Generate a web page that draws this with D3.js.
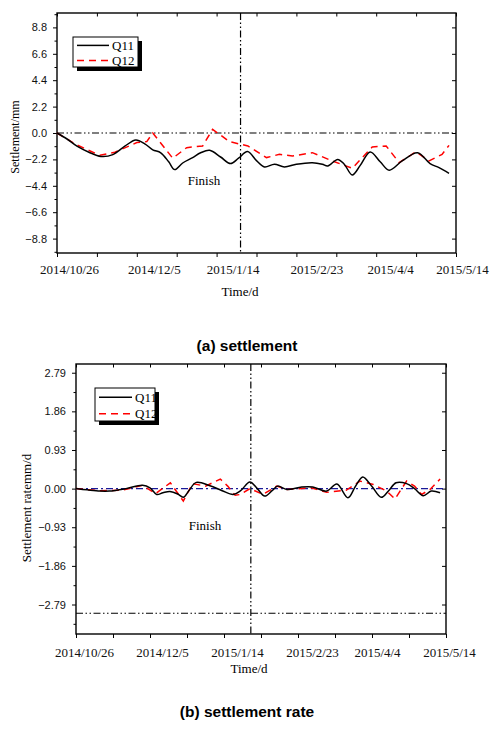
<!DOCTYPE html>
<html>
<head>
<meta charset="utf-8">
<script src="https://cdn.jsdelivr.net/npm/d3@7"></script>
<style>
  body { margin: 0; background: #fff; }
  svg { display: block; }
</style>
</head>
<body>
<div id="chart"></div>
<script>
// x axis: days since 2014/10/26
const xTickDays = [0, 40, 80, 120, 160, 200];
const xTickLabels = ["2014/10/26", "2014/12/5", "2015/1/14", "2015/2/23", "2015/4/4", "2015/5/14"];

// (a) settlement, mm
const settleYTicks = [-8.8, -6.6, -4.4, -2.2, 0.0, 2.2, 4.4, 6.6, 8.8];
const settleQ11Days = [0, 5, 10, 16, 22, 28, 34, 39.5, 44, 48, 52, 56, 59, 63, 68, 72, 76.5, 82, 87, 91, 95.5, 100, 104, 109, 114, 120, 128, 133, 135.7, 140.7, 144, 148, 152, 157, 162, 166.5, 173, 180.7, 187, 191.5, 196.5];
const settleQ11 = [0, -0.5, -1.1, -1.6, -1.95, -1.8, -1.1, -0.58, -0.9, -1.4, -1.65, -2.4, -3.05, -2.5, -2.05, -1.65, -1.44, -2.0, -2.55, -2.1, -1.55, -2.3, -2.83, -2.6, -2.83, -2.6, -2.47, -2.6, -2.75, -2.2, -2.6, -3.5, -2.7, -1.58, -2.4, -3.1, -2.33, -1.64, -2.55, -2.89, -3.36];
const settleQ12Days = [0, 10, 21.5, 29, 40, 45, 48, 58, 65, 73, 78, 86.5, 95.7, 105, 111.5, 118, 128, 138, 148, 158, 165, 171.5, 180, 186.5, 193, 196.5];
const settleQ12 = [0, -1.0, -1.86, -1.6, -0.8, -0.72, 0, -2.1, -1.22, -1.08, 0.3, -0.72, -1.08, -2.05, -1.78, -1.92, -1.64, -2.33, -2.94, -1.17, -1.08, -2.47, -1.56, -2.33, -1.78, -1.03];

// (b) settlement rate, mm/d
const rateYTicks = [-2.79, -1.86, -0.93, 0.00, 0.93, 1.86, 2.79];
const rateQ11Days = [0, 6, 13, 18, 27, 36, 40, 43.6, 47, 50.8, 55, 58, 61, 65, 72.4, 79, 85, 89, 94, 98, 102, 106, 109, 114, 122, 128, 135.5, 141, 147, 151, 155, 160, 165, 169, 173, 178.7, 183, 187.7, 192, 196.8];
const rateQ11 = [0, -0.03, -0.06, -0.06, 0.0, 0.08, 0.02, -0.14, -0.1, -0.07, -0.13, -0.21, -0.05, 0.15, 0.07, -0.05, -0.14, -0.05, 0.16, 0.0, -0.18, -0.05, 0.06, -0.02, 0.04, 0.04, -0.06, 0.11, -0.22, 0.05, 0.28, 0.05, -0.21, -0.05, 0.14, 0.12, 0.0, -0.17, -0.06, -0.1];
const rateQ12Days = [0, 13, 25, 36, 43, 51, 58, 63, 70, 78, 82, 86, 89, 94, 101, 108.5, 114, 127, 135.5, 146, 153.5, 160.7, 168, 172.4, 178.7, 183, 186.8, 191.4, 196.8];
const rateQ12 = [0, -0.05, -0.04, 0.08, -0.12, 0.14, -0.3, 0.12, 0.06, 0.23, 0.06, -0.16, -0.14, 0, -0.14, 0.06, -0.02, 0.02, -0.09, -0.04, 0.18, 0.1, -0.06, -0.25, 0.18, 0.06, -0.14, -0.02, 0.23];

const SERIF = "Liberation Serif, DejaVu Serif, serif";
const SANS = "Liberation Sans, Arial, sans-serif";
const DASH_DOT_DOT = "7,2.5,1.5,2.5,1.5,2.5";

const svg = d3.select("#chart").append("svg").attr("width", 493).attr("height", 734);

function zip(days, vals) {
  return days.map((d, i) => ({ day: d, v: vals[i] }));
}

function drawPanel(cfg) {
  const g = svg.append("g");
  const x = d3.scaleLinear().domain([0, 200]).range([cfg.left, cfg.right]);
  const y = d3.scaleLinear().domain(cfg.yDomain).range([cfg.bottom, cfg.top]);
  const step = cfg.yTicks[1] - cfg.yTicks[0];
  const minor = [];
  for (let t = cfg.yTicks[0] - step / 2; t <= cfg.yDomain[1]; t += step) {
    if (t >= cfg.yDomain[0]) minor.push(+t.toFixed(3));
  }
  const xAll = d3.range(0, 201, 20);

  // left axis (outward)
  const left = g.append("g").attr("transform", `translate(${cfg.left},0)`)
    .call(d3.axisLeft(y).tickValues(cfg.yTicks).tickSize(4).tickSizeOuter(0).tickPadding(6).tickFormat(cfg.yFormat));
  left.selectAll("text").style("font-family", SANS).style("font-size", "11px").attr("fill", "#111");
  g.append("g").attr("transform", `translate(${cfg.left},0)`)
    .call(d3.axisLeft(y).tickValues(minor).tickSize(2.5).tickSizeOuter(0).tickFormat(""));

  // right axis (inward)
  g.append("g").attr("transform", `translate(${cfg.right},0)`)
    .call(d3.axisLeft(y).tickValues(cfg.yTicks).tickSize(4).tickSizeOuter(0).tickFormat(""));

  // bottom axis (outward)
  const bottom = g.append("g").attr("transform", `translate(0,${cfg.bottom})`)
    .call(d3.axisBottom(x).tickValues(xAll).tickSize(4).tickSizeOuter(0).tickPadding(cfg.xPad)
      .tickFormat(d => { const i = xTickDays.indexOf(d); return i >= 0 ? xTickLabels[i] : ""; }));
  bottom.selectAll("text").style("font-family", SERIF).style("font-size", "13px").attr("fill", "#111")
    .attr("dx", d => { const i = xTickDays.indexOf(d); return i >= 0 ? cfg.xNudge[i] : 0; });

  // top axis (inward)
  g.append("g").attr("transform", `translate(0,${cfg.top})`)
    .call(d3.axisBottom(x).tickValues(xAll).tickSize(3.5).tickSizeOuter(0).tickFormat(""));

  g.selectAll(".domain").remove();
  g.selectAll(".tick line").attr("stroke", "#000").attr("stroke-width", 1);

  // frame
  g.append("rect")
    .attr("x", cfg.left).attr("y", cfg.top)
    .attr("width", cfg.right - cfg.left).attr("height", cfg.bottom - cfg.top)
    .attr("fill", "none").attr("stroke", "#000").attr("stroke-width", 1.4);

  // reference lines
  cfg.hLines.forEach(h => {
    g.append("line")
      .attr("x1", cfg.left).attr("x2", cfg.right)
      .attr("y1", y(h.v)).attr("y2", y(h.v))
      .attr("stroke", h.color).attr("stroke-width", 1.2)
      .attr("stroke-dasharray", h.dash);
  });
  g.append("line")
    .attr("x1", x(cfg.finishDay)).attr("x2", x(cfg.finishDay))
    .attr("y1", cfg.top).attr("y2", cfg.bottom)
    .attr("stroke", "#000").attr("stroke-width", 1.2)
    .attr("stroke-dasharray", DASH_DOT_DOT);

  // series
  const smooth = d3.line().x(d => x(d.day)).y(d => y(d.v)).curve(d3.curveCatmullRom.alpha(0.5));
  const straight = d3.line().x(d => x(d.day)).y(d => y(d.v));
  g.append("path").datum(cfg.q12).attr("d", straight)
    .attr("fill", "none").attr("stroke", "#ff0000").attr("stroke-width", 1.5)
    .attr("stroke-dasharray", "7,5");
  g.append("path").datum(cfg.q11).attr("d", smooth)
    .attr("fill", "none").attr("stroke", "#000").attr("stroke-width", 1.5);

  // Finish label
  g.append("text")
    .attr("x", cfg.finishLabel[0]).attr("y", cfg.finishLabel[1])
    .attr("text-anchor", "middle")
    .style("font-family", SERIF).style("font-size", "13px")
    .text("Finish");

  // legend
  const L = cfg.legend;
  const lg = g.append("g").attr("transform", `translate(${L.x},${L.y})`);
  lg.append("rect").attr("x", 4).attr("y", 4).attr("width", L.w).attr("height", L.h).attr("fill", "#000");
  lg.append("rect").attr("width", L.w).attr("height", L.h).attr("fill", "#fff").attr("stroke", "#000").attr("stroke-width", 1);
  [{ name: "Q11", color: "#000", dash: null }, { name: "Q12", color: "#ff0000", dash: "7,5" }].forEach((s, i) => {
    const ry = L.h * (i === 0 ? 0.28 : 0.78);
    lg.append("line")
      .attr("x1", 4).attr("x2", L.lineW).attr("y1", ry).attr("y2", ry)
      .attr("stroke", s.color).attr("stroke-width", 1.5)
      .attr("stroke-dasharray", s.dash);
    lg.append("text")
      .attr("x", L.lineW + 3).attr("y", ry + 4.5)
      .style("font-family", SERIF).style("font-size", "13px")
      .text(s.name);
  });

  // axis titles
  g.append("text")
    .attr("transform", `translate(${cfg.yTitle[0]},${cfg.yTitle[1]}) rotate(-90)`)
    .attr("text-anchor", "middle")
    .style("font-family", SERIF).style("font-size", cfg.yTitleSize + "px")
    .text(cfg.yTitleText);
  g.append("text")
    .attr("x", cfg.xTitle[0]).attr("y", cfg.xTitle[1])
    .attr("text-anchor", "middle")
    .style("font-family", SERIF).style("font-size", "13px")
    .text("Time/d");

  // caption
  g.append("text")
    .attr("x", 247).attr("y", cfg.captionY)
    .attr("text-anchor", "middle")
    .style("font-family", SANS).style("font-weight", "bold").style("font-size", "15.5px")
    .text(cfg.caption);
}

drawPanel({
  left: 57, right: 456, top: 13, bottom: 253,
  yDomain: [-10, 10], yTicks: settleYTicks, yFormat: d3.format(".1f"),
  xPad: 8, xNudge: [12, 17, 16, 20, 14, 6],
  hLines: [{ v: 0, color: "#000", dash: DASH_DOT_DOT }],
  finishDay: 92,
  q11: zip(settleQ11Days, settleQ11), q12: zip(settleQ12Days, settleQ12),
  finishLabel: [204, 185],
  legend: { x: 73, y: 37, w: 65, h: 30, lineW: 36 },
  yTitle: [19, 137], yTitleSize: 12, yTitleText: "Settlement/mm",
  xTitle: [240, 296],
  caption: "(a) settlement", captionY: 351
});

drawPanel({
  left: 76, right: 446, top: 364, bottom: 634,
  yDomain: [-3.5, 3.0], yTicks: rateYTicks, yFormat: d3.format(".2f"),
  xPad: 10, xNudge: [8, 12, 13, 14, 5, 3],
  hLines: [{ v: 0, color: "#1a1a99", dash: "7,3,2,3" }, { v: -3.0, color: "#000", dash: DASH_DOT_DOT }],
  finishDay: 94.5,
  q11: zip(rateQ11Days, rateQ11), q12: zip(rateQ12Days, rateQ12),
  finishLabel: [205, 530],
  legend: { x: 95, y: 388, w: 60, h: 33, lineW: 37 },
  yTitle: [31, 508], yTitleSize: 13, yTitleText: "Settlement ratemm/d",
  xTitle: [249, 673],
  caption: "(b) settlement rate", captionY: 717
});
</script>
</body>
</html>
